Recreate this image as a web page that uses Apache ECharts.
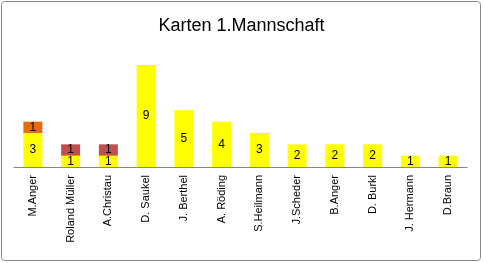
<!DOCTYPE html>
<html>
<head>
<meta charset="utf-8">
<script src="https://cdn.jsdelivr.net/npm/echarts@6/dist/echarts.min.js"></script>
<style>html,body{margin:0;padding:0;background:#fff}#main{width:483px;height:263px}</style>
</head>
<body>
<div id="main"></div>
<script>
var players = ['M.Anger', 'Roland Müller', 'A.Christau', 'D. Saukel', 'J. Berthel', 'A. Röding',
  'S.Heilmann', 'J.Scheder', 'B.Anger', 'D. Burkl', 'J. Hermann', 'D.Braun'];
var gelb = [3, 1, 1, 9, 5, 4, 3, 2, 2, 2, 1, 1];
var gelbRot = [1, null, null, null, null, null, null, null, null, null, null, null];
var rot = [null, 1, 1, null, null, null, null, null, null, null, null, null];

var chartDom = document.getElementById('main');
var myChart = echarts.init(chartDom);
var option;

var lbl = { show: true, position: 'inside', color: '#000', fontSize: 12, fontFamily: 'Liberation Sans' };

option = {
  animation: false,
  title: {
    text: 'Karten 1.Mannschaft',
    left: 'center',
    top: 12,
    textStyle: { fontSize: 18, fontWeight: 'normal', color: '#000', fontFamily: 'Liberation Sans' }
  },
  graphic: [{
    type: 'rect',
    shape: { x: 1.5, y: 1.5, width: 479, height: 259, r: 3 },
    style: { fill: 'none', stroke: '#888', lineWidth: 1 },
    silent: true
  }],
  grid: { left: 14, right: 16, top: 65, bottom: 96 },
  xAxis: {
    type: 'category',
    data: players,
    axisLine: { lineStyle: { color: '#868686' } },
    axisTick: { show: false },
    axisLabel: { rotate: 90, color: '#000', fontSize: 11, fontFamily: 'Liberation Sans', margin: 8, interval: 0 }
  },
  yAxis: { type: 'value', min: 0, max: 9, show: false, splitLine: { show: false } },
  series: [
    { name: 'Gelb', type: 'bar', stack: 'k', data: gelb, barWidth: 19, itemStyle: { color: '#FFFF00' }, label: lbl },
    { name: 'Gelb-Rot', type: 'bar', stack: 'k', data: gelbRot, barWidth: 19, itemStyle: { color: '#E46C0A' }, label: lbl },
    { name: 'Rot', type: 'bar', stack: 'k', data: rot, barWidth: 19, itemStyle: { color: '#C0504D' }, label: lbl }
  ]
};

option && myChart.setOption(option);
</script>
</body>
</html>
